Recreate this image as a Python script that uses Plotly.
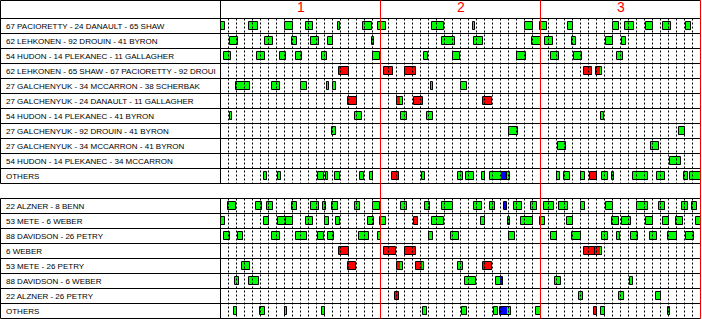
import plotly.graph_objects as go

period_labels = ["1", "2", "3"]

top_labels = [
    "67 PACIORETTY - 24 DANAULT - 65 SHAW",
    "62 LEHKONEN - 92 DROUIN - 41 BYRON",
    "54 HUDON - 14 PLEKANEC - 11 GALLAGHER",
    "62 LEHKONEN - 65 SHAW - 67 PACIORETTY - 92 DROUI",
    "27 GALCHENYUK - 34 MCCARRON - 38 SCHERBAK",
    "27 GALCHENYUK - 24 DANAULT - 11 GALLAGHER",
    "54 HUDON - 14 PLEKANEC - 41 BYRON",
    "27 GALCHENYUK - 92 DROUIN - 41 BYRON",
    "27 GALCHENYUK - 34 MCCARRON - 41 BYRON",
    "54 HUDON - 14 PLEKANEC - 34 MCCARRON",
    "OTHERS",
]

# shifts (start, end) in game minutes
top_shifts = [
    [(0.00, 0.54), (3.54, 4.66), (8.04, 9.04), (10.66, 11.54), (14.66, 14.91), (17.79, 18.96),
     (19.66, 20.71), (26.41, 27.91), (31.50, 31.84), (38.04, 39.04), (39.88, 40.84), (43.38, 44.04),
     (49.04, 49.79), (50.54, 51.66), (53.16, 54.04), (55.29, 56.34), (58.16, 58.84)],
    [(1.13, 2.21), (5.54, 6.59), (8.88, 9.59), (11.29, 12.34), (13.38, 14.09), (18.88, 19.21),
     (27.63, 29.25), (31.63, 32.84), (38.88, 40.09), (40.50, 41.59), (43.88, 44.46), (48.13, 49.09),
     (50.13, 50.71)],
    [(0.41, 1.34), (4.50, 5.54), (7.38, 8.16), (9.41, 10.21), (12.63, 13.29), (19.04, 19.96),
     (25.38, 25.96), (29.04, 29.91), (37.04, 38.21), (41.25, 42.34), (44.16, 45.21), (49.54, 50.29)],
    [(14.75, 16.09), (20.38, 21.59), (23.04, 24.46), (45.38, 46.46), (46.88, 47.71)],
    [(1.88, 3.71), (6.38, 7.46), (10.00, 10.84), (13.25, 13.59), (14.00, 14.46), (26.25, 26.59),
     (30.00, 30.84)],
    [(15.88, 17.00), (22.00, 22.75), (24.13, 25.34), (32.75, 33.88)],
    [(1.13, 1.46), (16.79, 17.71), (22.50, 23.34), (25.75, 26.50), (47.50, 47.96)],
    [(13.88, 14.38), (36.04, 37.21), (57.25, 58.09)],
    [(42.13, 43.21), (53.79, 54.84)],
    [(56.16, 57.50)],
    [(5.41, 5.75), (7.13, 7.59), (12.13, 12.88), (13.13, 13.46), (14.25, 14.88), (17.38, 17.96),
     (18.66, 19.09), (21.38, 22.34), (25.13, 25.59), (29.63, 30.34), (30.66, 31.71), (32.63, 33.04),
     (33.66, 35.75), (35.75, 36.21), (42.04, 42.46), (42.91, 43.71), (45.04, 45.59), (46.16, 47.04),
     (47.66, 48.41), (48.88, 49.21), (51.54, 53.41), (54.54, 55.59), (57.88, 58.41), (58.66, 60.00)],
]

# shorthanded (R) / power play (B) portions of shifts
top_special = [
    [], [], [],
    [(14.75, 16.09, "R"), (20.38, 21.59, "R"), (23.04, 24.46, "R"), (45.38, 46.46, "R"), (46.88, 47.46, "R")],
    [],
    [(15.88, 17.00, "R"), (22.00, 22.41, "R"), (24.13, 25.13, "R"), (32.75, 33.88, "R")],
    [], [], [], [],
    [(21.38, 22.34, "R"), (35.00, 35.75, "B"), (46.16, 47.04, "R")],
]

bottom_labels = [
    "22 ALZNER - 8 BENN",
    "53 METE - 6 WEBER",
    "88 DAVIDSON - 26 PETRY",
    "6 WEBER",
    "53 METE - 26 PETRY",
    "88 DAVIDSON - 6 WEBER",
    "22 ALZNER - 26 PETRY",
    "OTHERS",
]

bottom_shifts = [
    [(0.94, 1.96), (4.41, 5.21), (5.79, 6.59), (8.91, 9.59), (11.29, 12.34), (12.79, 13.21),
     (13.88, 14.71), (16.79, 17.46), (19.04, 19.96), (22.54, 23.34), (25.54, 26.21), (27.66, 29.04),
     (31.66, 32.71), (33.66, 34.34), (35.41, 35.79), (36.66, 37.71), (38.79, 39.59), (40.41, 41.63),
     (42.29, 43.46), (45.04, 45.59), (48.16, 49.09), (52.04, 53.46), (54.84, 55.59), (57.66, 58.46),
     (58.91, 59.59)],
    [(0.00, 0.54), (5.41, 6.09), (7.16, 8.16), (8.16, 9.04), (10.66, 11.54), (13.04, 13.59),
     (14.41, 14.91), (18.41, 19.21), (19.91, 20.71), (24.16, 24.66), (26.41, 27.91), (32.54, 33.04),
     (35.91, 36.21), (37.54, 39.00), (39.91, 40.59), (43.29, 44.09), (48.91, 49.84), (50.16, 51.34),
     (53.16, 54.09), (55.29, 56.09), (56.91, 57.84), (59.41, 60.00)],
    [(0.41, 1.19), (2.15, 2.84), (6.41, 7.41), (9.41, 10.84), (12.13, 12.96), (13.38, 14.21),
     (17.25, 18.59), (19.63, 20.04), (26.00, 26.59), (28.75, 29.84), (36.04, 36.84), (41.29, 42.09),
     (43.88, 45.09), (47.66, 48.46), (49.54, 49.96), (51.29, 52.16), (53.71, 54.59), (55.91, 57.09),
     (58.13, 59.21)],
    [(14.79, 16.09), (20.38, 21.96), (23.04, 24.46), (45.41, 46.79), (46.79, 47.71)],
    [(2.66, 3.71), (15.91, 16.96), (22.04, 22.75), (24.38, 25.41), (29.63, 30.34), (32.75, 33.88)],
    [(1.78, 2.34), (3.50, 4.75), (30.50, 31.88), (34.38, 35.25), (41.79, 42.50), (51.16, 51.50)],
    [(21.75, 22.34), (44.79, 45.25), (49.79, 50.38), (54.41, 55.00)],
    [(1.66, 2.09), (4.88, 5.59), (8.04, 8.34), (12.63, 13.00), (25.25, 25.84), (30.13, 30.75),
     (34.13, 34.71), (34.88, 36.25), (39.41, 40.09), (46.63, 47.09), (47.54, 48.00), (55.88, 56.21)],
]

bottom_special = [
    [(35.41, 35.79, "B")],
    [(24.16, 24.66, "R")],
    [],
    [(14.79, 16.09, "R"), (20.38, 21.96, "R"), (23.04, 24.46, "R"), (45.41, 46.79, "R"), (46.79, 47.46, "R")],
    [(15.91, 16.96, "R"), (22.04, 22.44, "R"), (24.38, 25.16, "R"), (32.75, 33.88, "R")],
    [(34.88, 35.25, "B")],
    [(21.75, 22.34, "R")],
    [(34.88, 35.75, "B"), (46.63, 47.09, "R")],
]

GREEN = "#00FF00"
RED = "#FF0000"
BLUE = "#0000FF"
COL = {"R": RED, "B": BLUE}

top_start = 0
bottom_start = len(top_labels) + 1
n_total = bottom_start + len(bottom_labels)
LABEL_W = 27.5  # label column width in minutes
BAR_W = 0.47

rows = []
for i, lab in enumerate(top_labels):
    rows.append((top_start + i, lab, top_shifts[i], top_special[i]))
for i, lab in enumerate(bottom_labels):
    rows.append((bottom_start + i, lab, bottom_shifts[i], bottom_special[i]))

fig = go.Figure()

# dotted minute grid
gx, gy = [], []
for (y0, y1) in [(top_start, top_start + len(top_labels)), (bottom_start, n_total)]:
    for m in range(1, 60):
        if m % 20 == 0:
            continue
        gx += [m, m, None]
        gy += [y0, y1, None]
fig.add_trace(go.Scatter(x=gx, y=gy, mode="lines", hoverinfo="skip",
                         line=dict(color="black", width=1, dash="2px,2px"), showlegend=False))

# shift fills
sx, sb, sy = [], [], []
for (r, lab, shifts, special) in rows:
    for (a, b) in shifts:
        sb.append(a); sx.append(b - a); sy.append(r + 0.5)
fig.add_trace(go.Bar(orientation="h", base=sb, x=sx, y=sy, width=BAR_W,
                     marker=dict(color=GREEN, line=dict(width=0)), hoverinfo="skip", showlegend=False))

for code in ["R", "B"]:
    px_, pb, py = [], [], []
    for (r, lab, shifts, special) in rows:
        for (a, b, c) in special:
            if c == code:
                pb.append(a); px_.append(b - a); py.append(r + 0.5)
    fig.add_trace(go.Bar(orientation="h", base=pb, x=px_, y=py, width=BAR_W,
                         marker=dict(color=COL[code], line=dict(width=0)), hoverinfo="skip", showlegend=False))

# outlines
fig.add_trace(go.Bar(orientation="h", base=sb, x=sx, y=sy, width=BAR_W,
                     marker=dict(color="rgba(0,0,0,0)", line=dict(width=1, color="black")),
                     hoverinfo="skip", showlegend=False))

shapes = []
header_top = -1.2
# horizontal lines
hlines = [header_top] + list(range(top_start, top_start + len(top_labels) + 1)) + \
    list(range(bottom_start, n_total + 1))
for yv in hlines:
    shapes.append(dict(type="line", xref="x", yref="y", x0=-LABEL_W, x1=60, y0=yv, y1=yv,
                       line=dict(color="black", width=1)))
# vertical borders
for xv in [-LABEL_W, 0]:
    shapes.append(dict(type="line", xref="x", yref="y", x0=xv, x1=xv,
                       y0=header_top, y1=top_start + len(top_labels), line=dict(color="black", width=1)))
    shapes.append(dict(type="line", xref="x", yref="y", x0=xv, x1=xv,
                       y0=bottom_start, y1=n_total, line=dict(color="black", width=1)))
# period lines (drawn over the shift boxes)
for xv in [20, 40, 60]:
    shapes.append(dict(type="line", xref="x", yref="y", x0=xv, x1=xv, y0=header_top, y1=n_total,
                       line=dict(color=RED, width=1), layer="above"))

annotations = []
for (r, lab, shifts, special) in rows:
    annotations.append(dict(x=-LABEL_W + 0.45, y=r + 0.5, xref="x", yref="y", text=lab,
                            showarrow=False, xanchor="left", yanchor="middle",
                            font=dict(family="Liberation Sans", size=8, color="black")))
for k, p in enumerate(period_labels):
    annotations.append(dict(x=10 + 20 * k, y=-0.79, xref="x", yref="y", text=p, showarrow=False,
                            xanchor="center", yanchor="middle",
                            font=dict(family="Liberation Sans", size=14, color=RED)))

fig.update_layout(
    width=702, height=319, autosize=False,
    margin=dict(l=0, r=0, t=0, b=0, pad=0),
    paper_bgcolor="white", plot_bgcolor="white",
    barmode="overlay", bargap=0,
    shapes=shapes, annotations=annotations,
    xaxis=dict(range=[-27.5625, 60.1875], visible=False, fixedrange=True),
    yaxis=dict(range=[n_total + 0.0333, -1.2333], visible=False, fixedrange=True),
    showlegend=False,
)

fig.write_html("out.html")
